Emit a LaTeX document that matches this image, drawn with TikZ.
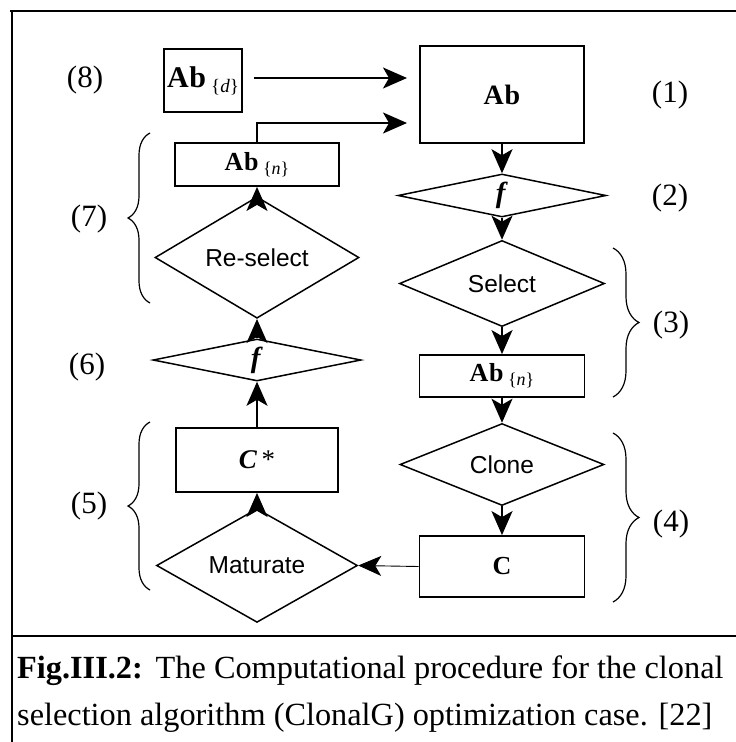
\documentclass[tikz,border=0pt]{standalone}
\usepackage{fontspec}
\setmainfont{Liberation Serif}
\setsansfont{Liberation Sans}
\usetikzlibrary{shapes.geometric,arrows.meta,decorations.pathreplacing}
\newcommand{\abset}[3]{\textbf{A\kern0.8pt b}\,{\fontsize{#2}{#2}\selectfont\raisebox{#3}{\{\textit{#1}\}}}}
\begin{document}
\begin{tikzpicture}[x=1pt,y=-1pt,
  box/.style={draw,line width=1.8pt,rectangle,inner sep=0pt},
  dia/.style={draw,line width=1.5pt,diamond,inner sep=0pt,
    font=\sffamily\fontsize{24.5}{28}\selectfont},
  arr/.style={line width=1.9pt,-{Stealth[length=24pt,width=21pt,inset=6pt]}},
  thinarr/.style={line width=0.9pt,-{Stealth[length=23pt,width=20pt,inset=6pt]}},
  num/.style={inner sep=0pt,font=\rmfamily\fontsize{31}{33}\selectfont},
  brc/.style={decorate,decoration={brace,amplitude=#1},line width=1.2pt},
  frameline/.style={line width=2.2pt},
  capt/.style={inner sep=0pt,anchor=base west,font=\rmfamily\fontsize{32.3}{35}\selectfont}]
\useasboundingbox (0,0) rectangle (736,742);

% frame of the figure and the caption rule
\draw[line width=1.4pt] (10,11) -- (736,11);
\draw[line width=2.6pt] (10,11) -- (42,11);
\draw[line width=2.6pt] (704,11) -- (736,11);
\draw[frameline] (12,10) -- (12,742);
\draw[frameline] (11,636) -- (736,636);

% right column
\node[box,minimum width=164pt,minimum height=97pt,font=\rmfamily\fontsize{28}{30}\selectfont] (ab) at (502,94.5) {\textbf{A\kern0.8pt b}};
\node[dia,minimum width=208pt,minimum height=43pt,font=\rmfamily\fontsize{29}{30}\selectfont] (f1) at (502,195.5) {\textbf{\textit{f}}};
\node[dia,minimum width=205pt,minimum height=69pt] (sel) at (502,283.5) {Select};
\node[box,minimum width=165pt,minimum height=42pt,font=\rmfamily\fontsize{26}{28}\selectfont] (abn1) at (502,376) {\abset{n}{18}{-4pt}};
\node[dia,minimum width=204pt,minimum height=71pt] (clone) at (502,464.5) {Clone};
\node[box,minimum width=165pt,minimum height=61pt,font=\rmfamily\fontsize{26}{28}\selectfont] (c) at (502,566.5) {\textbf{C}};

% left column
\node[box,minimum width=78pt,minimum height=63pt,font=\rmfamily\fontsize{30}{32}\selectfont] (abd) at (203,80.5) {\abset{d}{19}{-5pt}};
\node[box,minimum width=164pt,minimum height=43pt,font=\rmfamily\fontsize{26}{28}\selectfont] (abn2) at (257,164.5) {\abset{n}{18}{-4pt}};
\node[dia,minimum width=204pt,minimum height=69pt] (resel) at (257,257.5) {Re-select};
\node[dia,minimum width=208pt,minimum height=42pt,font=\rmfamily\fontsize{29}{30}\selectfont] (f2) at (257,360) {\textbf{\textit{f}}};
\node[box,minimum width=162pt,minimum height=64pt,font=\rmfamily\fontsize{27}{29}\selectfont] (cs) at (257,460) {\textbf{\textit{C}}\,*};
\node[dia,minimum width=201pt,minimum height=69pt] (mat) at (257,565.5) {Maturate};

% connectors
\coordinate (in1) at (407,78);
\coordinate (in2) at (407,123);
\draw[arr] ([xshift=11pt]abd.east |- in1) -- (in1);
\draw[arr] (abn2.north) |- (in2);
\draw[arr] (ab) -- (f1);
\draw[arr] (f1) -- (sel);
\draw[arr] (sel) -- (abn1);
\draw[arr] (abn1) -- (clone);
\draw[arr] (clone) -- (c);
\draw[thinarr] (c.west) -- (mat.east);
\draw[arr] (mat) -- (cs);
\draw[arr] (cs) -- (f2);
\draw[arr] (f2) -- (resel);
\draw[arr] (resel) -- (abn2);

% step braces
\coordinate (b7a) at (150,303); \coordinate (b7b) at (150,133);
\coordinate (b5a) at (150,590); \coordinate (b5b) at (150,422);
\coordinate (b3a) at (613,248); \coordinate (b3b) at (613,397);
\coordinate (b4a) at (613,433); \coordinate (b4b) at (613,602);
\draw[brc=22pt] (b7a) -- (b7b);
\draw[brc=22pt] (b5a) -- (b5b);
\draw[brc=26pt] (b3a) -- (b3b);
\draw[brc=26pt] (b4a) -- (b4b);

% step numbers
\node[num] (n8) at (85,80) {(8)};
\node[num] (n1) at (670,95) {(1)};
\node[num] (n2) at (670,198) {(2)};
\node[num] (n3) at (671,325) {(3)};
\node[num] (n4) at (671,524) {(4)};
\node[num] (n7) at (89,219) {(7)};
\node[num] (n6) at (87,367) {(6)};
\node[num] (n5) at (89,506) {(5)};

% caption
\node[capt] (cap1) at (17,678) {\textbf{Fig.III.2:}\hspace{0.4em}The Computational procedure for the clonal};
\node[capt] (cap2) at (17,725) {selection algorithm (ClonalG) optimization case. [22]};
\end{tikzpicture}
\end{document}
